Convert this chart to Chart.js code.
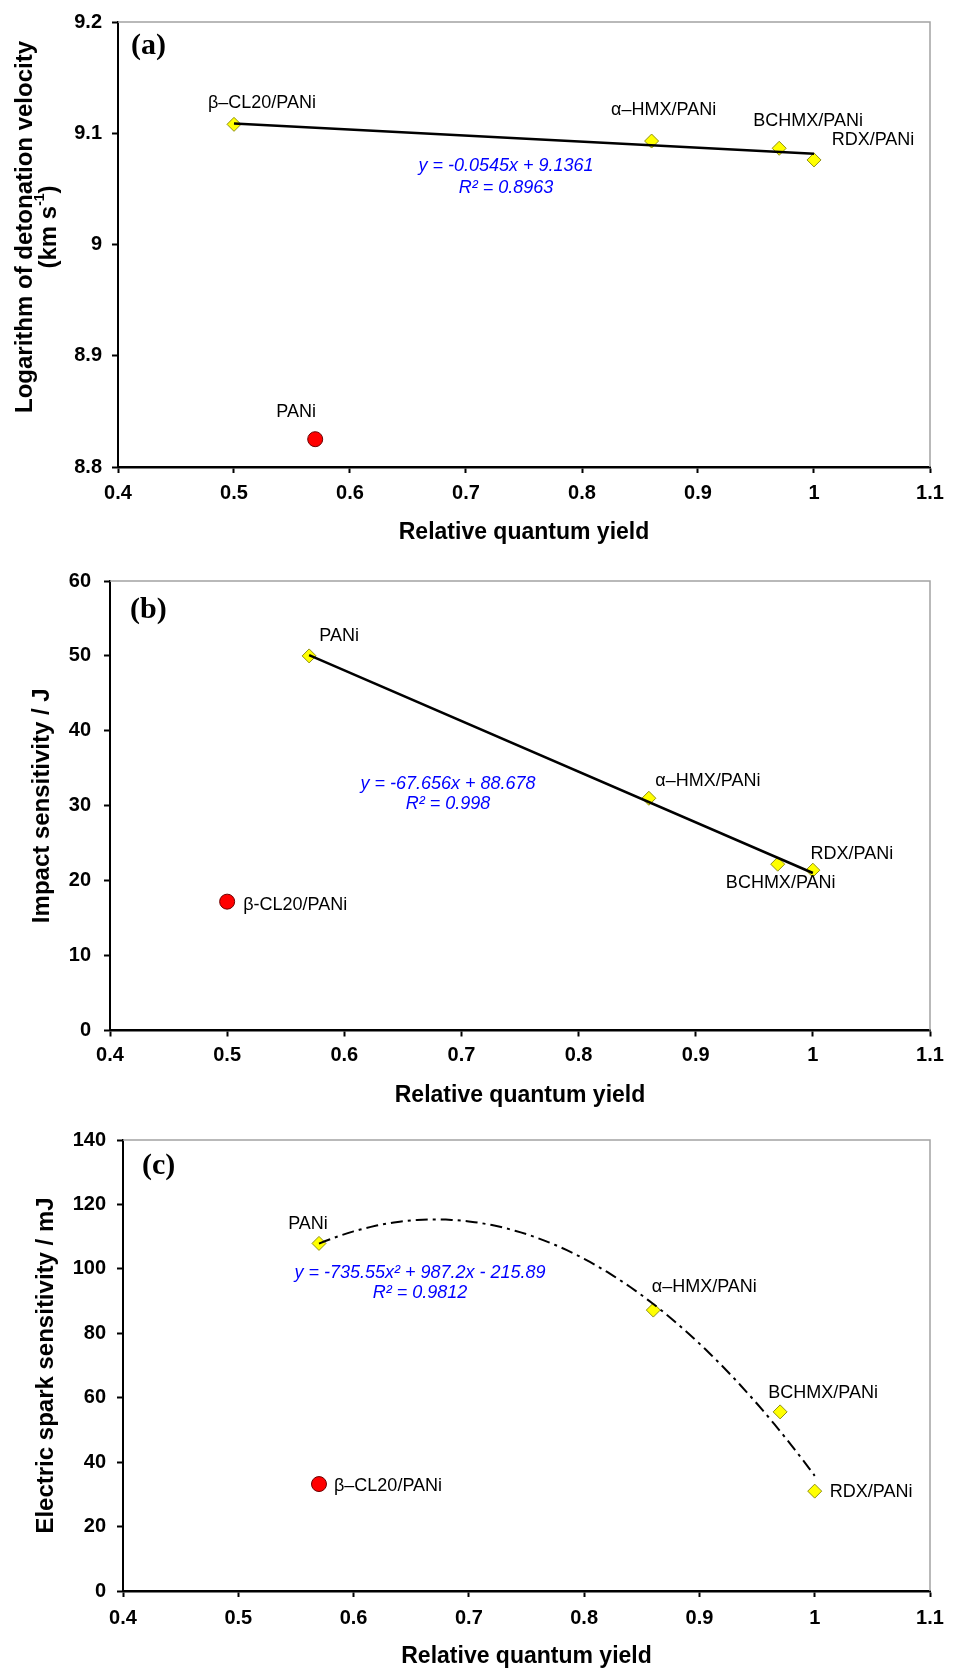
<!DOCTYPE html>
<html>
<head>
<meta charset="utf-8">
<script src="https://cdn.jsdelivr.net/npm/chart.js@4.4.1/dist/chart.umd.min.js"></script>
<style>
  html, body { margin: 0; padding: 0; background: #fff; }
  body { width: 960px; height: 1671px; position: relative; overflow: hidden; }
  canvas { position: absolute; left: 0; }
</style>
</head>
<body>
<canvas id="chartA" width="960" height="556" style="top:0px"></canvas>
<canvas id="chartB" width="960" height="556" style="top:556px"></canvas>
<canvas id="chartC" width="960" height="559" style="top:1112px"></canvas>
<script>
// ---- shared x axis ----
const xTicks = [0.4, 0.5, 0.6, 0.7, 0.8, 0.9, 1.0, 1.1];

// ---- (a) logarithm of detonation velocity ----
// first four points are fitted, the last one is the outlier
const namesA = ['β–CL20/PANi', 'α–HMX/PANi', 'BCHMX/PANi', 'RDX/PANi', 'PANi'];
const qyA = [0.50, 0.86, 0.97, 1.00, 0.57];
const detVelA = [9.108, 9.093, 9.0865, 9.076, 8.825];
const yTicksA = [8.8, 8.9, 9.0, 9.1, 9.2];
const fitA = [-0.0545, 9.1361];           // slope, intercept
const eqA = ['y = -0.0545x + 9.1361', 'R² = 0.8963'];

// ---- (b) impact sensitivity ----
const namesB = ['PANi', 'α–HMX/PANi', 'BCHMX/PANi', 'RDX/PANi', 'β-CL20/PANi'];
const qyB = [0.57, 0.86, 0.97, 1.00, 0.50];
const impactB = [50.0, 31.0, 22.2, 21.4, 17.2];
const yTicksB = [0, 10, 20, 30, 40, 50, 60];
const fitB = [-67.656, 88.678];
const eqB = ['y = -67.656x + 88.678', 'R² = 0.998'];

// ---- (c) electric spark sensitivity ----
const namesC = ['PANi', 'α–HMX/PANi', 'BCHMX/PANi', 'RDX/PANi', 'β–CL20/PANi'];
const qyC = [0.57, 0.86, 0.97, 1.00, 0.57];
const sparkC = [107.9, 87.2, 55.6, 31.0, 33.2];
const yTicksC = [0, 20, 40, 60, 80, 100, 120, 140];
const fitC = [-735.55, 987.2, -215.89];   // x², x, constant
const eqC = ['y = -735.55x² + 987.2x - 215.89', 'R² = 0.9812'];

const SANS = '"Liberation Sans", Arial, Helvetica, sans-serif';
const SERIF = '"Liberation Serif", "Times New Roman", serif';

// evaluate a polynomial (highest power first)
function poly(c, x) { return c.reduce((acc, k) => acc * x + k, 0); }

// trend curve across the fitted points' x range, from the printed equation
function trendPoints(xs, coeffs) {
  const lo = Math.min(...xs), hi = Math.max(...xs);
  const steps = coeffs.length > 2 ? 86 : 1;
  const pts = [];
  for (let i = 0; i <= steps; i++) {
    const x = lo + (hi - lo) * i / steps;
    pts.push({ x, y: poly(coeffs, x) });
  }
  return pts;
}

// frame, panel tag, point labels and the fit equation
const panelDecor = {
  id: 'panelDecor',
  beforeDatasetsDraw(chart, args, o) {
    const { ctx, chartArea: a } = chart;
    ctx.save();
    ctx.strokeStyle = '#a3a3a3';
    ctx.lineWidth = 1.5;
    ctx.beginPath();
    ctx.moveTo(a.left, a.top);
    ctx.lineTo(a.right, a.top);
    ctx.lineTo(a.right, a.bottom);
    ctx.stroke();
    ctx.restore();
  },
  afterDatasetsDraw(chart, args, o) {
    const { ctx, chartArea: a, scales } = chart;
    ctx.save();
    ctx.textBaseline = 'middle';
    ctx.fillStyle = '#000';
    ctx.font = `bold 30px ${SERIF}`;
    ctx.textAlign = 'left';
    ctx.fillText(o.tag, a.left + o.tagPos[0], a.top + o.tagPos[1]);

    ctx.font = `18px ${SANS}`;
    o.names.forEach((name, i) => {
      const [dx, dy, align] = o.labelOffsets[i];
      ctx.textAlign = align;
      ctx.fillText(name,
        scales.x.getPixelForValue(o.xs[i]) + dx,
        scales.y.getPixelForValue(o.ys[i]) + dy);
    });

    ctx.fillStyle = '#0000ff';
    ctx.font = `italic 18px ${SANS}`;
    ctx.textAlign = 'center';
    o.equation.forEach((line, i) => {
      ctx.fillText(line, a.left + o.eqPos[0], a.top + o.eqPos[1] + i * o.eqGap);
    });

    if (o.yTitle) {
      // two-line rotated title with a superscript
      const t = o.yTitle;
      ctx.fillStyle = '#000';
      ctx.font = `bold ${t.size}px ${SANS}`;
      ctx.save();
      ctx.translate(t.x1, t.y);
      ctx.rotate(-Math.PI / 2);
      ctx.fillText(t.line1, 0, 0);
      ctx.restore();

      ctx.save();
      ctx.translate(t.x2, t.y);
      ctx.rotate(-Math.PI / 2);
      const mainFont = `bold ${t.size}px ${SANS}`;
      const supFont = `bold ${Math.round(t.size * 0.6)}px ${SANS}`;
      ctx.font = mainFont;
      const w1 = ctx.measureText(t.pre).width;
      const w3 = ctx.measureText(t.post).width;
      ctx.font = supFont;
      const w2 = ctx.measureText(t.sup).width;
      let x = -(w1 + w2 + w3) / 2;
      ctx.textAlign = 'left';
      ctx.font = mainFont;
      ctx.fillText(t.pre, x, 0); x += w1;
      ctx.font = supFont;
      ctx.fillText(t.sup, x, -t.size * 0.38); x += w2;
      ctx.font = mainFont;
      ctx.fillText(t.post, x, 0);
      ctx.restore();
    }
    ctx.restore();
  }
};

function buildChart(id, p) {
  const fittedX = p.xs.slice(0, 4), fittedY = p.ys.slice(0, 4);
  const tickFont = { family: SANS, size: 20, weight: 'bold' };
  const titleFont = { family: SANS, size: 23, weight: 'bold' };
  return new Chart(document.getElementById(id), {
    type: 'scatter',
    data: {
      datasets: [
        {
          data: trendPoints(fittedX, p.fit),
          showLine: true,
          borderColor: '#000',
          borderWidth: p.lineWidth,
          borderDash: p.dash,
          pointRadius: 0,
          pointHitRadius: 0,
          tension: 0,
          order: 0
        },
        {
          data: fittedX.map((x, i) => ({ x, y: fittedY[i] })),
          pointStyle: 'rectRot',
          pointRadius: 7,
          backgroundColor: '#ffff00',
          borderColor: '#8f8f14',
          borderWidth: 1,
          order: 1
        },
        {
          data: [{ x: p.xs[4], y: p.ys[4] }],
          pointStyle: 'circle',
          pointRadius: 7.5,
          backgroundColor: '#ff0000',
          borderColor: '#6b0000',
          borderWidth: 1,
          order: 2
        }
      ]
    },
    options: {
      responsive: false,
      animation: false,
      devicePixelRatio: 1,
      layout: { padding: { top: p.padTop, right: 30, bottom: 0, left: 0 } },
      plugins: {
        legend: { display: false },
        tooltip: { enabled: false },
        panelDecor: {
          tag: p.tag, tagPos: p.tagPos,
          names: p.names, xs: p.xs, ys: p.ys, labelOffsets: p.labelOffsets,
          equation: p.equation, eqPos: p.eqPos, eqGap: p.eqGap,
          yTitle: p.yTitleCustom || null
        }
      },
      scales: {
        x: {
          type: 'linear',
          position: 'bottom',
          min: xTicks[0],
          max: xTicks[xTicks.length - 1],
          afterBuildTicks: s => { s.ticks = xTicks.map(v => ({ value: v })); },
          afterFit: s => { s.height = p.xHeight; },
          ticks: { font: tickFont, color: '#000', padding: p.xTickPad, maxRotation: 0, autoSkip: false,
                   callback: v => String(v) },
          grid: { drawOnChartArea: false, drawTicks: true, tickLength: 6, tickColor: '#000', tickWidth: 2 },
          border: { display: true, color: '#000', width: 2.5 },
          title: { display: true, text: 'Relative quantum yield', font: titleFont, color: '#000',
                   padding: { top: 0, bottom: p.xTitlePad } }
        },
        y: {
          type: 'linear',
          position: 'left',
          min: p.yTicks[0],
          max: p.yTicks[p.yTicks.length - 1],
          afterBuildTicks: s => { s.ticks = p.yTicks.map(v => ({ value: v })); },
          afterFit: s => { s.width = p.yWidth; },
          ticks: { font: tickFont, color: '#000', padding: p.yTickPad, autoSkip: false,
                   callback: v => String(v) },
          grid: { drawOnChartArea: false, drawTicks: true, tickLength: 6, tickColor: '#000', tickWidth: 2 },
          border: { display: true, color: '#000', width: 2 },
          title: {
            display: !!p.yTitle,
            text: p.yTitle || '',
            font: { family: SANS, size: 24, weight: 'bold' },
            color: '#000',
            padding: { top: p.yTitlePad || 0, bottom: 0 }
          }
        }
      }
    },
    plugins: [panelDecor]
  });
}

buildChart('chartA', {
  tag: '(a)', tagPos: [13, 24],
  names: namesA, xs: qyA, ys: detVelA, yTicks: yTicksA, fit: fitA,
  labelOffsets: [[28, -21, 'center'], [12, -31, 'center'], [29, -27, 'center'], [59, -20, 'center'], [-19, -27, 'center']],
  equation: eqA, eqPos: [388, 144], eqGap: 22,
  lineWidth: 2.5, dash: [],
  padTop: 16, xHeight: 89, yWidth: 118, xTickPad: 8, yTickPad: 10, xTitlePad: 9.2,
  yTitleCustom: { size: 24, x1: 25, x2: 49, y: 227,
                  line1: 'Logarithm of detonation velocity', pre: '(km s', sup: '-1', post: ')' }
});

buildChart('chartB', {
  tag: '(b)', tagPos: [20, 29],
  names: namesB, xs: qyB, ys: impactB, yTicks: yTicksB, fit: fitB,
  labelOffsets: [[30, -20, 'center'], [59, -17, 'center'], [3, 19, 'center'], [39, -16, 'center'], [16, 3, 'left']],
  equation: eqB, eqPos: [338, 203], eqGap: 20,
  lineWidth: 2.5, dash: [],
  padTop: 20, xHeight: 81.5, yWidth: 110, xTickPad: 6.5, yTickPad: 13, xTitlePad: 2.2,
  yTitle: 'Impact sensitivity / J', yTitlePad: 27.6
});

buildChart('chartC', {
  tag: '(c)', tagPos: [19, 26],
  names: namesC, xs: qyC, ys: sparkC, yTicks: yTicksC, fit: fitC,
  labelOffsets: [[-11, -19, 'center'], [51, -23, 'center'], [43, -19, 'center'], [15, 1, 'left'], [15, 2, 'left']],
  equation: eqC, eqPos: [297, 133], eqGap: 20,
  lineWidth: 2, dash: [12, 5, 3, 5],
  padTop: 28, xHeight: 80, yWidth: 123, xTickPad: 9, yTickPad: 11, xTitlePad: 0.2,
  yTitle: 'Electric spark sensitivity / mJ', yTitlePad: 31.6
});
</script>
</body>
</html>
